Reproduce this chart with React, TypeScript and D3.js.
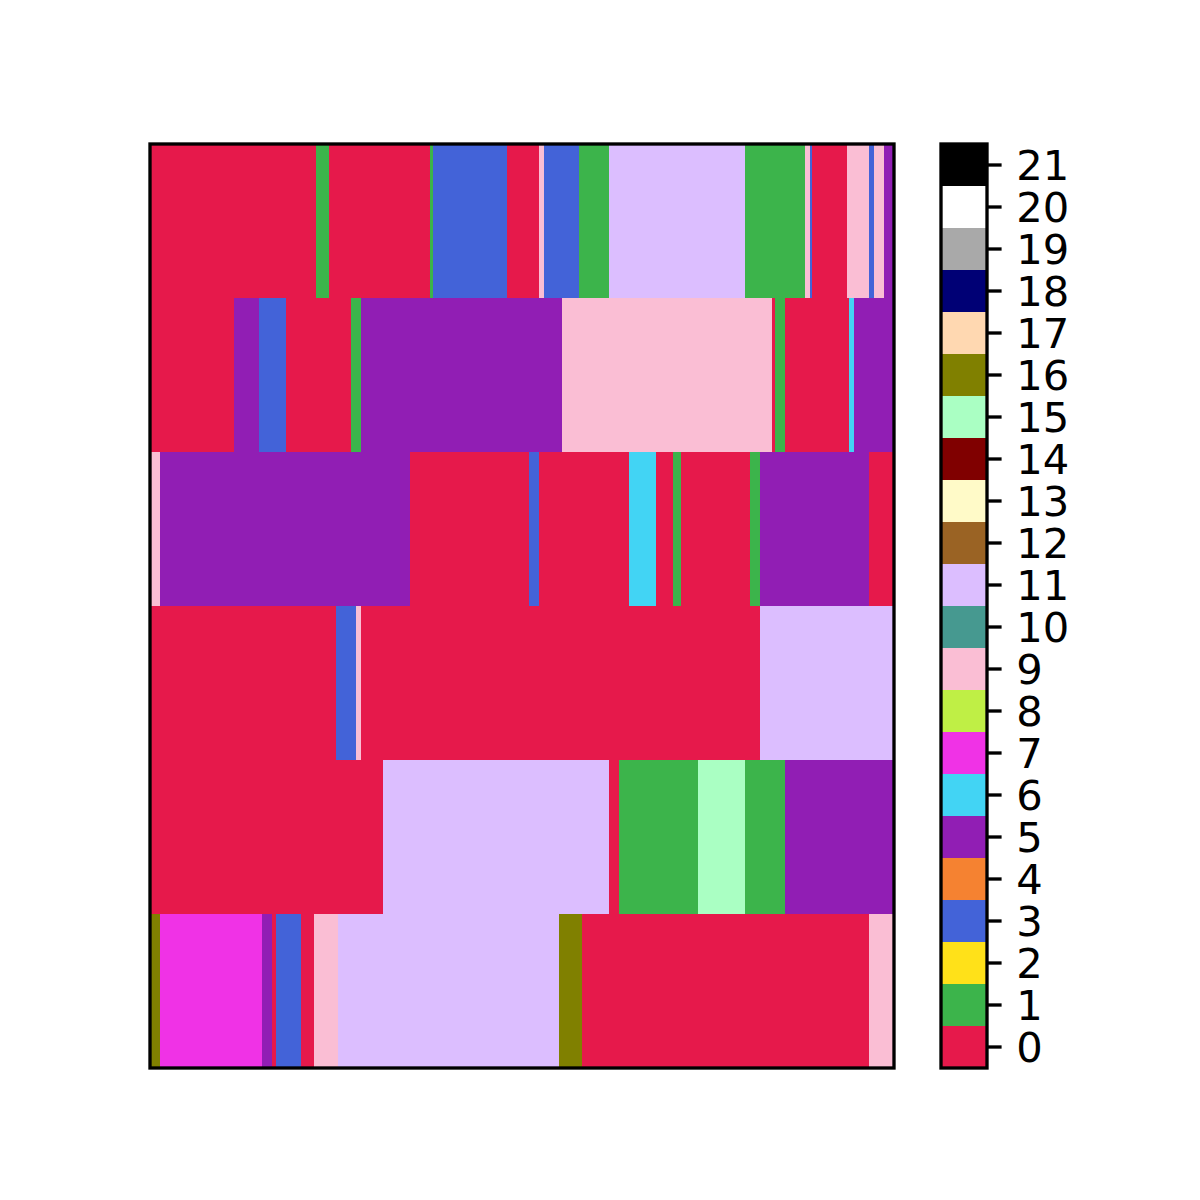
import React from 'react';
import * as d3 from 'd3';

// categorical palette, index = category value
const palette = [
    '#e6194b', '#3cb44b', '#ffe119', '#4363d8', '#f58231', '#911eb4',
    '#42d4f4', '#f032e6', '#bfef45', '#fabed4', '#469990', '#dcbeff',
    '#9a6324', '#fffac8', '#800000', '#aaffc3', '#808000', '#ffd8b1',
    '#000075', '#a9a9a9', '#ffffff', '#000000'
];

const categories = d3.range(22);
const nCols = 300;

// each row: [category, run length] pairs, left to right
const row0 = [[0, 67], [1, 5], [0, 41], [1, 1], [3, 30], [0, 13], [9, 2], [3, 14], [1, 12], [11, 55], [1, 24], [9, 2], [3, 1], [0, 14], [9, 9], [3, 2], [9, 4], [5, 4]];
const row1 = [[0, 34], [5, 10], [3, 11], [0, 26], [1, 4], [5, 81], [9, 85], [0, 1], [1, 4], [0, 26], [6, 2], [5, 16]];
const row2 = [[9, 4], [5, 101], [0, 48], [3, 4], [0, 36], [6, 11], [0, 7], [1, 3], [0, 28], [1, 4], [5, 44], [0, 10]];
const row3 = [[0, 75], [3, 8], [9, 2], [0, 161], [11, 54]];
const row4 = [[0, 94], [11, 91], [0, 4], [1, 32], [15, 19], [1, 16], [5, 44]];
const row5 = [[16, 4], [7, 41], [5, 4], [0, 2], [3, 10], [0, 5], [9, 10], [11, 89], [16, 9], [0, 116], [9, 10]];

const rows = [row0, row1, row2, row3, row4, row5];

const W = 1200, H = 1200;
const plot = {left: 150, right: 894, top: 144, bottom: 1068};
const cbar = {left: 941, right: 987};
const fontSize = 41.67;
const lw = 3.33;

const App = () => {
    const x = d3.scaleLinear().domain([0, nCols]).range([plot.left, plot.right]);
    const y = d3.scaleBand<number>().domain(d3.range(rows.length)).range([plot.top, plot.bottom]);
    const cy = d3.scaleBand<number>().domain(categories.slice().reverse()).range([plot.top, plot.bottom]);

    // turn run lengths into segments with start/end column
    const segments = rows.flatMap((runs, ri) => {
        let start = 0;
        return runs.map(([cat, len]) => {
            const s = {row: ri, cat, x0: start, x1: start + len};
            start += len;
            return s;
        });
    });

    return (
        <svg width={W} height={H} style={{position: 'absolute', left: 0, top: 0, background: 'white'}}
             fontFamily="DejaVu Sans">
            <g shapeRendering="crispEdges">
                {segments.map((s, i) => (
                    <rect key={i} x={x(s.x0)} width={x(s.x1) - x(s.x0)}
                          y={y(s.row)} height={y.bandwidth()} fill={palette[s.cat]}/>
                ))}
            </g>
            <rect x={plot.left} y={plot.top} width={plot.right - plot.left} height={plot.bottom - plot.top}
                  fill="none" stroke="black" strokeWidth={lw}/>

            {/* colorbar */}
            <g shapeRendering="crispEdges">
                {categories.map(c => (
                    <rect key={c} x={cbar.left} width={cbar.right - cbar.left}
                          y={cy(c)} height={cy.bandwidth()} fill={palette[c]}/>
                ))}
            </g>
            <rect x={cbar.left} y={plot.top} width={cbar.right - cbar.left} height={plot.bottom - plot.top}
                  fill="none" stroke="black" strokeWidth={lw}/>
            {categories.map(c => {
                const ty = (cy(c) as number) + cy.bandwidth() / 2;
                return (
                    <g key={c}>
                        <line x1={cbar.right} x2={cbar.right + 14.6} y1={ty} y2={ty} stroke="black" strokeWidth={lw}/>
                        <text x={cbar.right + 29.2} y={ty + fontSize * 0.365} fontSize={fontSize}>{c}</text>
                    </g>
                );
            })}
        </svg>
    );
};

export default App;
